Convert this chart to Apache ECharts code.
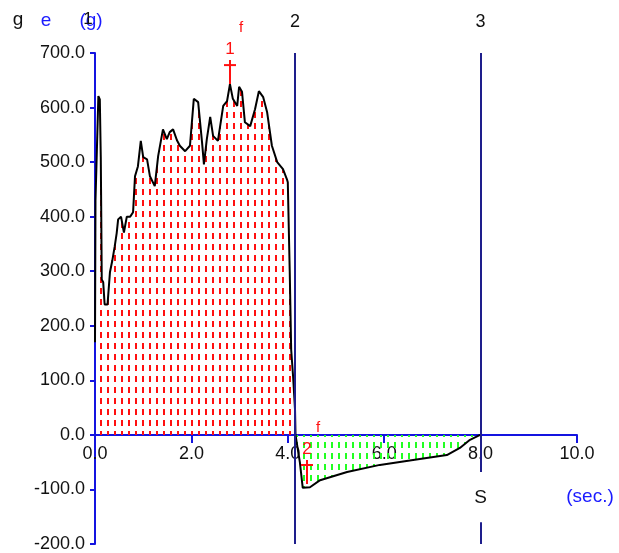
<!DOCTYPE html>
<html><head><meta charset="utf-8">
<script src="https://cdn.jsdelivr.net/npm/echarts@6/dist/echarts.min.js"></script>
<style>html,body{margin:0;padding:0;background:#fff}#c{width:619px;height:553px}</style>
</head><body><div id="c"></div>
<script>
// ---- data ----
const posTime  = [0.00,0.01,0.05,0.07,0.10,0.12,0.13,0.14,0.17,0.20,0.26,0.31,0.36,0.41,0.45,0.48,0.54,0.60,0.66,0.73,0.79,0.83,0.89,0.95,1.00,1.08,1.14,1.24,1.31,1.41,1.49,1.55,1.62,1.70,1.76,1.87,1.97,2.05,2.14,2.22,2.26,2.32,2.39,2.45,2.55,2.66,2.74,2.80,2.86,2.95,2.99,3.05,3.11,3.22,3.32,3.40,3.49,3.57,3.67,3.78,3.90,3.98,4.00,4.04,4.07,4.11,4.15,4.16];
const posForce = [170,430,430,621,615,509,400,285,280,239,239,298,320,346,370,395,400,371,400,400,408,474,492,539,509,505,474,456,511,560,542,555,560,540,530,520,530,616,610,537,496,542,583,548,539,603,612,643,616,603,638,629,573,566,597,630,619,592,530,500,487,469,463,300,156,107,46,0];
const negTime  = [4.16,4.25,4.31,4.46,4.67,5.23,5.91,6.60,7.30,7.57,7.78,7.99];
const negForce = [0,-50,-97,-96,-83,-68,-55,-46,-37,-24,-9,0];
const xMin = 0, xMax = 10, xStep = 2;
const yMin = -200, yMax = 700, yStep = 100;
const phaseTime = [4.15, 8.0];
const phaseNames = ['2', '3'];
const markerTime = [2.80, 4.40];
const markerForce = [643, -90];
const markerNames = ['1', '2'];

const AXIS = '#1414e0', PHASE = '#1e1e8c', FONT = 'Liberation Sans, Arial, sans-serif';
const GRID = {left: 95, right: 42, top: 53, bottom: 9};
const H = 553;

function pattern(color, w, h, dw, dh) {
  const c = document.createElement('canvas');
  c.width = w; c.height = h;
  const g = c.getContext('2d');
  g.fillStyle = color; g.fillRect(2, 2, dw, dh);
  return c;
}
const zip = (a, b) => a.map((v, i) => [v, b[i]]);
const gridH = H - GRID.top - GRID.bottom;
const zeroOffset = gridH * (0 - yMin) / (yMax - yMin);

const chart = echarts.init(document.getElementById('c'), null, {renderer: 'canvas'});
chart.setOption({
  animation: false,
  grid: Object.assign({containLabel: false, outerBoundsMode: 'none'}, GRID),
  xAxis: [{
    type: 'value', min: xMin, max: xMax, interval: xStep,
    axisLine: {onZero: true, lineStyle: {color: AXIS, width: 2}},
    axisTick: {inside: false, length: 8, lineStyle: {color: AXIS, width: 2}},
    axisLabel: {show: false},
    splitLine: {show: false}
  }, {
    type: 'value', min: xMin, max: xMax, interval: xStep, position: 'bottom', offset: -zeroOffset,
    axisLine: {show: false, onZero: false}, axisTick: {show: false},
    axisLabel: {color: '#111', fontSize: 18, fontFamily: FONT, margin: 10, formatter: v => v.toFixed(1)},
    splitLine: {show: false}
  }],
  yAxis: {
    type: 'value', min: yMin, max: yMax, interval: yStep,
    axisLine: {show: true, onZero: false, lineStyle: {color: AXIS, width: 2}},
    axisTick: {show: true, length: 5, lineStyle: {color: AXIS, width: 2}},
    axisLabel: {color: '#111', fontSize: 18, fontFamily: FONT, margin: 10, formatter: v => v.toFixed(1)},
    splitLine: {show: false}
  },
  series: [
    {
      type: 'line', data: zip(posTime, posForce), showSymbol: false, z: 3,
      lineStyle: {color: '#000', width: 2},
      areaStyle: {color: {image: pattern('#ff1010', 7, 11, 2, 6), repeat: 'repeat'}, opacity: 1}
    },
    {
      type: 'line', data: zip(negTime, negForce), showSymbol: false, z: 3,
      lineStyle: {color: '#000', width: 2},
      areaStyle: {color: {image: pattern('#22ff22', 7, 11, 2, 6), repeat: 'repeat'}, opacity: 1},
      markLine: {
        silent: true, symbol: ['none', 'none'],
        lineStyle: {color: PHASE, width: 2, type: 'solid'},
        label: {color: '#111', fontSize: 18, fontFamily: FONT},
        data: [
          [{coord: [phaseTime[0], yMax], label: {show: true, position: 'start', formatter: phaseNames[0], distance: 22}},
           {coord: [phaseTime[0], yMin]}],
          [{coord: [phaseTime[1], yMax], label: {show: true, position: 'start', formatter: phaseNames[1], distance: 22}},
           {coord: [phaseTime[1], -68]}],
          [{coord: [phaseTime[1], -160], label: {show: false}}, {coord: [phaseTime[1], yMin]}]
        ]
      }
    }
  ]
});

// annotation graphics
const g = [];
const txt = (x, y, s, color, size, align) => g.push({type: 'text', x, y, style: {text: s, fill: color, font: size + 'px ' + FONT, textAlign: align || 'center', textVerticalAlign: 'middle'}, z: 10});
txt(18, 20, 'g', '#111', 19);
txt(46, 21, 'e', '#1a1aff', 19);
txt(91, 21, '(g)', '#1a1aff', 19);
txt(88, 19, '1', '#111', 17);
const sPix = chart.convertToPixel({gridIndex: 0}, [phaseTime[1], -115]);
txt(sPix[0], sPix[1], 'S', '#111', 19);
txt(590, 497, '(sec.)', '#1a1aff', 19);
markerTime.forEach((t, i) => {
  const p = chart.convertToPixel({gridIndex: 0}, [t, markerForce[i]]);
  const x = Math.round(p[0]), yb = p[1];
  g.push({type: 'line', shape: {x1: x, y1: yb, x2: x, y2: yb - 24}, style: {stroke: '#ff1010', lineWidth: 2}, z: 10});
  g.push({type: 'line', shape: {x1: x - 6, y1: yb - 19, x2: x + 6, y2: yb - 19}, style: {stroke: '#ff1010', lineWidth: 2}, z: 10});
  txt(x, yb - 35, markerNames[i], '#ff1010', 17);
  txt(x + 11, yb - 56, 'f', '#ff1010', 15);
});
chart.setOption({graphic: g});
</script>
</body></html>
